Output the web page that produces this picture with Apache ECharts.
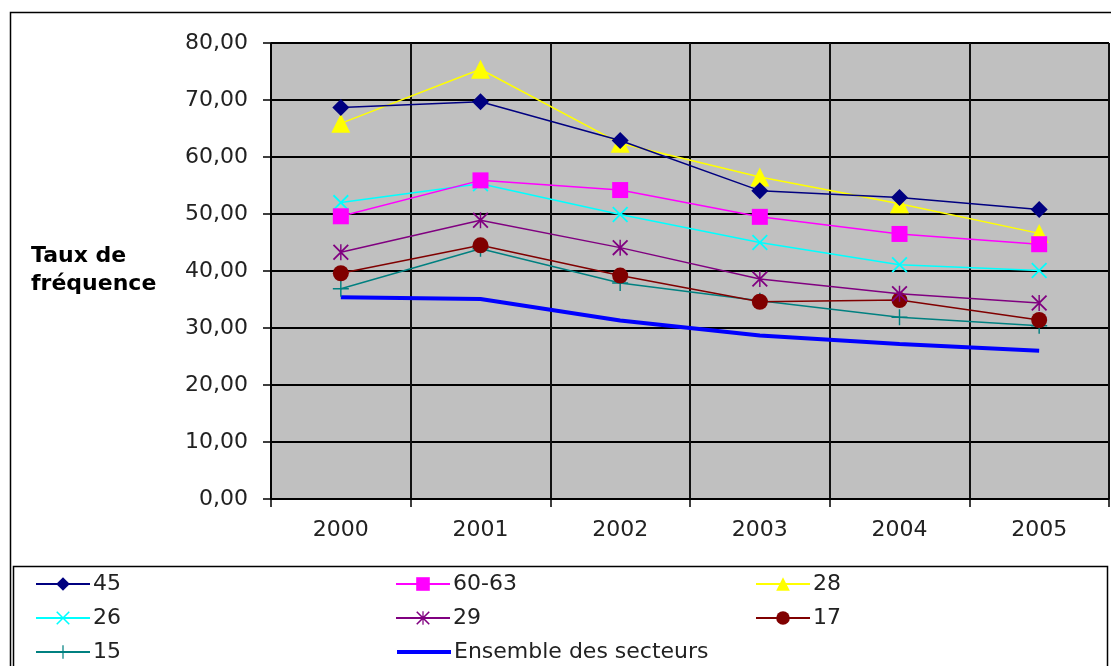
<!DOCTYPE html>
<html><head><meta charset="utf-8">
<script src="https://cdn.jsdelivr.net/npm/echarts@6/dist/echarts.min.js"></script>
<style>html,body{margin:0;padding:0;background:#fff}#c{width:1111px;height:666px}</style>
</head><body><div id="c"></div>
<script>
const years = ['2000','2001','2002','2003','2004','2005'];
const yTicks = [0,10,20,30,40,50,60,70,80];
const s45 = [68.7, 69.7, 62.9, 54.1, 52.9, 50.8];
const s6063 = [49.6, 55.9, 54.2, 49.5, 46.5, 44.7];
const s28 = [65.9, 75.4, 62.4, 56.5, 51.8, 46.6];
const s26 = [52.0, 55.3, 49.9, 45.0, 41.1, 40.1];
const s29 = [43.3, 48.9, 44.1, 38.6, 36.0, 34.4];
const s17 = [39.6, 44.5, 39.2, 34.6, 34.9, 31.4];
const s15 = [36.9, 43.9, 37.9, 34.8, 31.9, 30.4];
const sAll = [35.4, 35.1, 31.3, 28.7, 27.2, 26.0];
const names = ['45','60-63','28','26','29','17','15','Ensemble des secteurs'];

const X = 'path://M0,0.8L0.8,0L10,9.2L9.2,10Z M9.2,0L10,0.8L0.8,10L0,9.2Z';
const STAR = 'path://M0,0.8L0.8,0L10,9.2L9.2,10Z M9.2,0L10,0.8L0.8,10L0,9.2Z M4.55,0H5.45V10H4.55Z';
const PLUS = 'path://M4.55,0H5.45V10H4.55Z M0,4.55H10V5.45H0Z';

const FONT = '"DejaVu Sans", Verdana, sans-serif';

const styles = [
  {data:s45, color:'#000080', symbol:'diamond', size:17},
  {data:s6063, color:'#FF00FF', symbol:'rect', size:16},
  {data:s28, color:'#FFFF00', symbol:'triangle', size:19},
  {data:s26, color:'#00FFFF', symbol:X, size:16},
  {data:s29, color:'#800080', symbol:STAR, size:16},
  {data:s17, color:'#800000', symbol:'circle', size:16},
  {data:s15, color:'#008080', symbol:PLUS, size:16},
  {data:sAll, color:'#0000FF', symbol:'none', size:0, width:4}
];

const series = styles.map((s,i)=>({
  name: names[i], type:'line', data:s.data,
  symbol: s.symbol, symbolSize: s.size, showSymbol: s.symbol!=='none',
  lineStyle:{color:s.color, width:s.width||1.5},
  itemStyle:{color:s.color},
  emphasis:{disabled:true}, animation:false, z: 10 - i
}));

const colX = [30, 390, 750];
const rowY = [568, 602, 636];
const legends = names.map((n,i)=>{
  const lg = {
    data:[n], left: colX[i%3], top: rowY[Math.floor(i/3)],
    itemWidth: 54, itemHeight: 17, itemGap: 4,
    textStyle:{fontFamily:FONT, fontSize:22, color:'#222', padding:[0,0,0,-2]},
    selectedMode:false
  };
  if (i === 7) { lg.itemStyle = {opacity:0}; lg.lineStyle = {width:4}; }
  return lg;
});

const chart = echarts.init(document.getElementById('c'), null, {renderer:'canvas'});
chart.setOption({
  backgroundColor:'#fff',
  animation:false,
  grid:{left:271, top:43, width:838, height:456, show:true, backgroundColor:'#C0C0C0', borderColor:'#888', borderWidth:1},
  xAxis:{type:'category', data:years, boundaryGap:true,
    axisLine:{lineStyle:{color:'#000', width:1.5}},
    axisTick:{show:true, length:8, lineStyle:{color:'#000', width:1.5}},
    splitLine:{show:true, lineStyle:{color:'#111', width:2}},
    axisLabel:{margin:20, fontFamily:FONT, fontSize:22, color:'#222'}},
  yAxis:{type:'value', min:yTicks[0], max:yTicks[yTicks.length-1], interval:10,
    axisLine:{show:true, lineStyle:{color:'#000', width:1.5}},
    axisTick:{show:true, length:8, lineStyle:{color:'#000', width:1.5}},
    splitLine:{show:true, lineStyle:{color:'#000', width:2}},
    axisLabel:{margin:23, fontFamily:FONT, fontSize:22, color:'#222',
      formatter: v => v.toFixed(2).replace('.',',')}},
  legend: legends,
  graphic:[
    {type:'rect', left:8, top:10, shape:{width:1120, height:680}, style:{fill:null, stroke:'#000', lineWidth:1.5}, silent:true, z:-1},
    {type:'rect', left:11, top:564, shape:{width:1094, height:120}, style:{fill:null, stroke:'#000', lineWidth:1.5}, silent:true, z:-1},
    {type:'text', left:31, top:242, style:{text:'Taux de\nfréquence', font:'bold 22px "DejaVu Sans", Verdana, sans-serif', fill:'#000', align:'center', lineHeight:28}, z:5}
  ],
  series
});
</script></body></html>
